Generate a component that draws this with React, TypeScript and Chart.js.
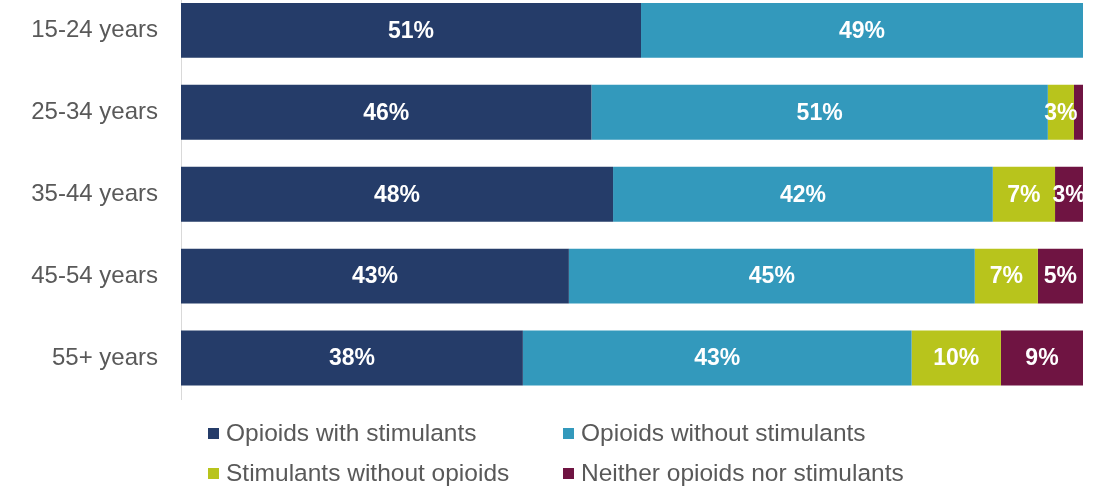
import React, { useEffect, useRef } from 'react';
import { Chart, registerables } from 'chart.js';
Chart.register(...registerables);

const categories = ['15-24 years', '25-34 years', '35-44 years', '45-54 years', '55+ years'];
const seriesNames = [
  'Opioids with stimulants',
  'Opioids without stimulants',
  'Stimulants without opioids',
  'Neither opioids nor stimulants',
];
const opioidsWith = [51, 45.5, 47.9, 43.0, 37.9];
const opioidsWithout = [49, 50.6, 42.1, 45.0, 43.1];
const stimulantsWithout = [0, 2.9, 6.9, 7.0, 9.9];
const neither = [0, 1.0, 3.1, 5.0, 9.1];
const seriesColors = ['#253C69', '#3399BC', '#B8C41C', '#6F1442'];

const FONT = '"Liberation Sans", Arial, sans-serif';

const labelPlugin = {
  id: 'segLabels',
  afterDatasetsDraw(chart: any) {
    const ctx = chart.ctx;
    ctx.save();
    ctx.fillStyle = '#ffffff';
    ctx.font = `bold 23px ${FONT}`;
    ctx.textAlign = 'center';
    ctx.textBaseline = 'middle';
    chart.data.datasets.forEach((ds: any, di: number) => {
      const meta = chart.getDatasetMeta(di);
      meta.data.forEach((el: any, i: number) => {
        const v = ds.data[i];
        if (v < 2) return;
        const cx = (el.x + el.base) / 2;
        ctx.fillText(Math.round(v) + '%', cx, el.y + 1);
      });
    });
    ctx.restore();
  },
};

export default function App() {
  const ref = useRef<HTMLCanvasElement | null>(null);
  useEffect(() => {
    if (!ref.current) return;
    const data = [opioidsWith, opioidsWithout, stimulantsWithout, neither];
    const chart = new Chart(ref.current, {
      type: 'bar',
      data: {
        labels: categories,
        datasets: data.map((d, i) => ({
          label: seriesNames[i],
          data: d,
          backgroundColor: seriesColors[i],
          borderWidth: 0,
          categoryPercentage: 1,
          barPercentage: 0.67,
        })),
      },
      options: {
        indexAxis: 'y',
        animation: false,
        responsive: false,
        maintainAspectRatio: false,
        layout: { autoPadding: false, padding: { top: 0, right: 16, bottom: 88, left: 0 } },
        plugins: { legend: { display: false }, tooltip: { enabled: false } },
        scales: {
          x: { stacked: true, min: 0, max: 100, display: false },
          y: {
            stacked: true,
            grid: { display: false, drawTicks: false },
            border: { display: true, color: '#d9d9d9', width: 1 },
            ticks: { color: '#595959', font: { family: FONT, size: 24 }, padding: 23 },
            afterFit: (s: any) => { s.width = 181; },
          },
        },
      },
      plugins: [labelPlugin],
    });
    return () => chart.destroy();
  }, []);

  const legendPos = [
    { left: 208, top: 433 },
    { left: 563, top: 433 },
    { left: 208, top: 473 },
    { left: 563, top: 473 },
  ];

  return (
    <div style={{ position: 'fixed', left: 0, top: 0, width: 1099, height: 487, overflow: 'hidden', background: '#fff' }}>
      <canvas ref={ref} width={1099} height={535} style={{ position: 'absolute', left: 0, top: -48, width: 1099, height: 535 }} />
      {seriesNames.map((n, i) => (
        <div key={n} style={{ position: 'absolute', left: legendPos[i].left, top: legendPos[i].top - 14, height: 28, display: 'flex', alignItems: 'center', fontFamily: FONT, fontSize: 24.5, color: '#595959', whiteSpace: 'nowrap' }}>
          <span style={{ display: 'inline-block', width: 11, height: 11, background: seriesColors[i], marginRight: 7 }} />
          {n}
        </div>
      ))}
    </div>
  );
}
